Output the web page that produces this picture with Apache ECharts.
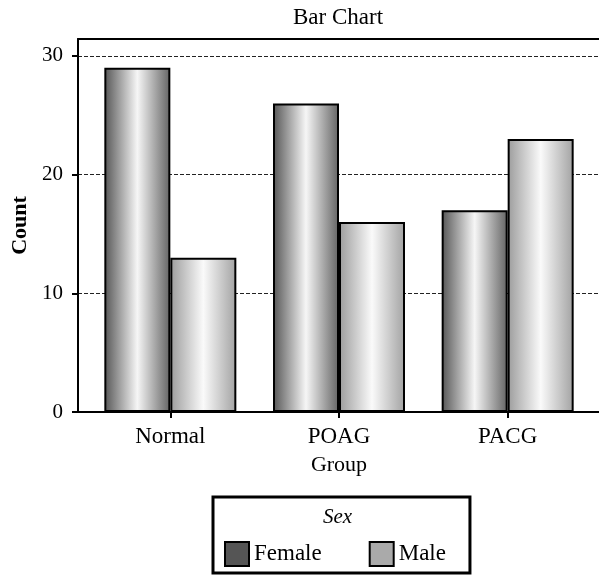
<!DOCTYPE html>
<html><head><meta charset="utf-8">
<script src="https://cdn.jsdelivr.net/npm/echarts@6/dist/echarts.min.js"></script>
<style>html,body{margin:0;padding:0;background:#fff}#c{width:599px;height:578px}</style>
</head><body><div id="c"></div>
<script>
const categories = ['Normal', 'POAG', 'PACG'];
const femaleCounts = [29, 26, 17];
const maleCounts = [13, 16, 23];
const yTicks = [0, 10, 20, 30];
const seriesNames = ['Female', 'Male'];
const legendTitle = 'Sex';
const chartTitle = 'Bar Chart';
const xName = 'Group';
const yName = 'Count';

const FONT = '"Liberation Serif", "Times New Roman", serif';
const Y_MAX = 31.43;

function grad(edgeL, mid, edgeR) {
  return { type: 'linear', x: 0, y: 0, x2: 1, y2: 0,
    colorStops: [ { offset: 0, color: edgeL }, { offset: 0.5, color: mid }, { offset: 1, color: edgeR } ] };
}

const chart = echarts.init(document.getElementById('c'), null, { renderer: 'canvas' });
chart.setOption({
  animation: false,
  backgroundColor: '#fff',
  title: [
    { text: chartTitle, left: 293, top: 6, padding: 0,
      textStyle: { fontFamily: FONT, fontSize: 23, fontWeight: 'normal', color: '#000' } },
    { text: legendTitle, left: 323, top: 507, padding: 0, z: 10,
      textStyle: { fontFamily: FONT, fontSize: 21, fontStyle: 'italic', fontWeight: 'normal', color: '#000' } }
  ],
  legend: {
    left: 213, top: 497,
    padding: [44, 24, 6, 11],
    borderColor: '#000', borderWidth: 3, backgroundColor: '#fff',
    itemWidth: 24, itemHeight: 24, itemGap: 47,
    icon: 'rect',
    itemStyle: { borderColor: '#000', borderWidth: 2 },
    textStyle: { fontFamily: FONT, fontSize: 23, color: '#000' },
    data: [
      { name: seriesNames[0], itemStyle: { color: '#555555' } },
      { name: seriesNames[1], itemStyle: { color: '#aaaaaa' } }
    ]
  },
  grid: [
    { left: 78, right: 0, top: 39, bottom: 166 },
    { left: 86, right: 7, top: 39, bottom: 166 }
  ],
  xAxis: [
    { type: 'category', gridIndex: 0, data: categories,
      axisLine: { lineStyle: { color: '#000', width: 2 } },
      axisTick: { show: false }, axisLabel: { show: false }, splitLine: { show: false } },
    { type: 'category', gridIndex: 0, position: 'top', data: categories,
      axisLine: { lineStyle: { color: '#000', width: 2 } },
      axisTick: { show: false }, axisLabel: { show: false }, splitLine: { show: false } },
    { type: 'category', gridIndex: 1, data: categories,
      name: xName, nameLocation: 'middle', nameGap: 42,
      nameTextStyle: { fontFamily: FONT, fontSize: 22, color: '#000' },
      axisLine: { show: false },
      axisTick: { show: true, alignWithLabel: true, length: 6, lineStyle: { color: '#000', width: 2 } },
      axisLabel: { margin: 13, fontFamily: FONT, fontSize: 23, color: '#000' },
      splitLine: { show: false } }
  ],
  yAxis: [
    { type: 'value', gridIndex: 0, min: 0, max: Y_MAX,
      name: yName, nameLocation: 'middle', nameGap: 43,
      nameTextStyle: { fontFamily: FONT, fontSize: 22, fontWeight: 'bold', color: '#000' },
      axisLine: { show: true, lineStyle: { color: '#000', width: 2 } },
      axisTick: { show: true, length: 6, customValues: yTicks, lineStyle: { color: '#000', width: 2 } },
      axisLabel: { margin: 15, customValues: yTicks, fontFamily: FONT, fontSize: 21, color: '#000' },
      splitLine: { show: true, lineStyle: { color: '#222', width: 1, type: [4, 2] } } },
    { type: 'value', gridIndex: 1, min: 0, max: Y_MAX, show: false, splitLine: { show: false } }
  ],
  series: [
    { name: seriesNames[0], type: 'bar', xAxisIndex: 2, yAxisIndex: 1,
      data: femaleCounts, barWidth: 66, barGap: '0%',
      itemStyle: { color: grad('#555555', '#f6f6f6', '#636363'), borderColor: '#000', borderWidth: 2 } },
    { name: seriesNames[1], type: 'bar', xAxisIndex: 2, yAxisIndex: 1,
      data: maleCounts, barWidth: 66, barGap: '0%',
      itemStyle: { color: grad('#9c9c9c', '#fafafa', '#a2a2a2'), borderColor: '#000', borderWidth: 2 } }
  ]
});
</script></body></html>
